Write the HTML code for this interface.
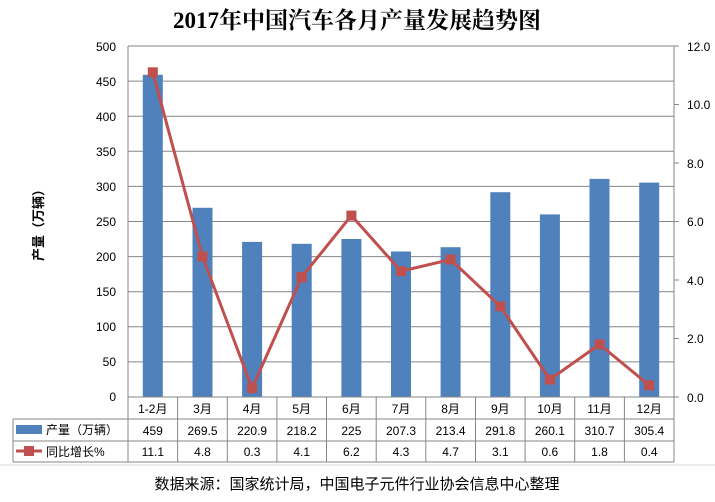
<!DOCTYPE html>
<html><head><meta charset="utf-8"><style>
body{margin:0;background:#fff}
svg text{font-family:"Liberation Sans","Noto Sans CJK SC",sans-serif;fill:#000}
</style></head><body>
<svg width="715" height="497" viewBox="0 0 715 497" xmlns="http://www.w3.org/2000/svg">
<text x="357" y="28" text-anchor="middle" font-size="23" font-weight="bold" style="font-family:'Liberation Serif','Noto Serif CJK SC',serif">2017年中国汽车各月产量发展趋势图</text>
<g stroke="#868686" stroke-width="1">
<line x1="128" y1="46" x2="674" y2="46"/><line x1="128" y1="81.1" x2="674" y2="81.1"/><line x1="128" y1="116.2" x2="674" y2="116.2"/><line x1="128" y1="151.3" x2="674" y2="151.3"/><line x1="128" y1="186.4" x2="674" y2="186.4"/><line x1="128" y1="221.5" x2="674" y2="221.5"/><line x1="128" y1="256.6" x2="674" y2="256.6"/><line x1="128" y1="291.7" x2="674" y2="291.7"/><line x1="128" y1="326.8" x2="674" y2="326.8"/><line x1="128" y1="361.9" x2="674" y2="361.9"/>
<line x1="128" y1="46" x2="128" y2="462"/><line x1="674" y1="46" x2="674" y2="462"/>
<line x1="674" y1="46" x2="679" y2="46"/><line x1="674" y1="104.5" x2="679" y2="104.5"/><line x1="674" y1="163" x2="679" y2="163"/><line x1="674" y1="221.5" x2="679" y2="221.5"/><line x1="674" y1="280" x2="679" y2="280"/><line x1="674" y1="338.5" x2="679" y2="338.5"/><line x1="674" y1="397" x2="679" y2="397"/>
</g>
<g fill="#4f81bd">
<rect x="142.8" y="74.8" width="20" height="322.2"/><rect x="192.5" y="207.8" width="20" height="189.2"/><rect x="242.1" y="241.9" width="20" height="155.1"/><rect x="291.7" y="243.8" width="20" height="153.2"/><rect x="341.4" y="239" width="20" height="158"/><rect x="391" y="251.5" width="20" height="145.5"/><rect x="440.6" y="247.2" width="20" height="149.8"/><rect x="490.3" y="192.2" width="20" height="204.8"/><rect x="539.9" y="214.4" width="20" height="182.6"/><rect x="589.5" y="178.9" width="20" height="218.1"/><rect x="639.2" y="182.6" width="20" height="214.4"/>
</g>
<polyline fill="none" stroke="#c0504d" stroke-width="3" points="152.8,72.3 202.5,256.6 252.1,388.2 301.7,277.1 351.4,215.6 401,271.2 450.6,259.5 500.3,306.3 549.9,379.5 599.5,344.4 649.2,385.3"/>
<g fill="#c0504d">
<rect x="147.8" y="67.3" width="10" height="10"/><rect x="197.5" y="251.6" width="10" height="10"/><rect x="247.1" y="383.2" width="10" height="10"/><rect x="296.7" y="272.1" width="10" height="10"/><rect x="346.4" y="210.6" width="10" height="10"/><rect x="396" y="266.2" width="10" height="10"/><rect x="445.6" y="254.5" width="10" height="10"/><rect x="495.3" y="301.3" width="10" height="10"/><rect x="544.9" y="374.5" width="10" height="10"/><rect x="594.5" y="339.4" width="10" height="10"/><rect x="644.2" y="380.3" width="10" height="10"/>
</g>
<g font-size="12" text-anchor="end">
<text x="116" y="51">500</text><text x="116" y="86">450</text><text x="116" y="121">400</text><text x="116" y="156">350</text><text x="116" y="191">300</text><text x="116" y="226">250</text><text x="116" y="261">200</text><text x="116" y="296">150</text><text x="116" y="331">100</text><text x="116" y="366">50</text><text x="116" y="401">0</text>
</g>
<g font-size="12">
<text x="687" y="51">12.0</text><text x="687" y="109">10.0</text><text x="687" y="168">8.0</text><text x="687" y="226">6.0</text><text x="687" y="285">4.0</text><text x="687" y="343">2.0</text><text x="687" y="402">0.0</text>
</g>
<text transform="translate(43,222) rotate(-90)" text-anchor="middle" font-size="13" font-weight="bold">产量（万辆）</text>
<g stroke="#868686" stroke-width="1" fill="none">
<line x1="128" y1="397" x2="674" y2="397"/><line x1="13" y1="419" x2="674" y2="419"/><line x1="13" y1="441" x2="674" y2="441"/><line x1="13" y1="462" x2="674" y2="462"/><line x1="13" y1="419" x2="13" y2="462"/>
<line x1="177.6" y1="397" x2="177.6" y2="462"/><line x1="227.3" y1="397" x2="227.3" y2="462"/><line x1="276.9" y1="397" x2="276.9" y2="462"/><line x1="326.5" y1="397" x2="326.5" y2="462"/><line x1="376.2" y1="397" x2="376.2" y2="462"/><line x1="425.8" y1="397" x2="425.8" y2="462"/><line x1="475.5" y1="397" x2="475.5" y2="462"/><line x1="525.1" y1="397" x2="525.1" y2="462"/><line x1="574.7" y1="397" x2="574.7" y2="462"/><line x1="624.4" y1="397" x2="624.4" y2="462"/>
</g>
<line x1="0" y1="465" x2="715" y2="465" stroke="#d9d9d9"/>
<rect x="16" y="425" width="26" height="9" fill="#4f81bd"/>
<line x1="16" y1="451" x2="42" y2="451" stroke="#c0504d" stroke-width="3"/><rect x="24" y="446" width="10" height="10" fill="#c0504d"/>
<text x="46" y="434" font-size="12">产量（万辆）</text>
<text x="46" y="456" font-size="12">同比增长%</text>
<g font-size="12" text-anchor="middle">
<text x="152.8" y="413">1-2月</text><text x="202.5" y="413">3月</text><text x="252.1" y="413">4月</text><text x="301.7" y="413">5月</text><text x="351.4" y="413">6月</text><text x="401" y="413">7月</text><text x="450.6" y="413">8月</text><text x="500.3" y="413">9月</text><text x="549.9" y="413">10月</text><text x="599.5" y="413">11月</text><text x="649.2" y="413">12月</text>
<text x="152.8" y="435">459</text><text x="202.5" y="435">269.5</text><text x="252.1" y="435">220.9</text><text x="301.7" y="435">218.2</text><text x="351.4" y="435">225</text><text x="401" y="435">207.3</text><text x="450.6" y="435">213.4</text><text x="500.3" y="435">291.8</text><text x="549.9" y="435">260.1</text><text x="599.5" y="435">310.7</text><text x="649.2" y="435">305.4</text>
<text x="152.8" y="456">11.1</text><text x="202.5" y="456">4.8</text><text x="252.1" y="456">0.3</text><text x="301.7" y="456">4.1</text><text x="351.4" y="456">6.2</text><text x="401" y="456">4.3</text><text x="450.6" y="456">4.7</text><text x="500.3" y="456">3.1</text><text x="549.9" y="456">0.6</text><text x="599.5" y="456">1.8</text><text x="649.2" y="456">0.4</text>
</g>
<text x="357" y="489" text-anchor="middle" font-size="15">数据来源：国家统计局，中国电子元件行业协会信息中心整理</text>
</svg>
</body></html>
